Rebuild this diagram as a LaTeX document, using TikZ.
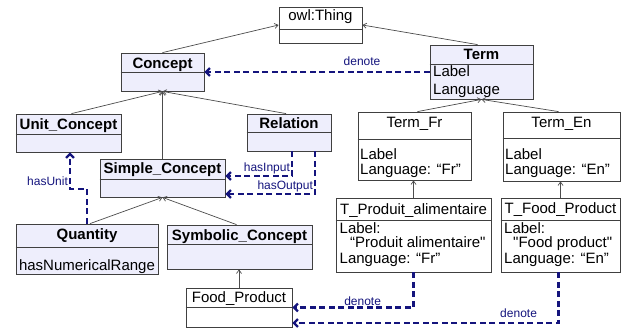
\documentclass[tikz,border=0pt]{standalone}
\usepackage{fontspec}
\setmainfont{Liberation Sans}[Ligatures=TeXOff]
\usetikzlibrary{arrows.meta}

\definecolor{classfill}{RGB}{238,238,252}
\definecolor{assocblue}{RGB}{20,20,125}

\begin{document}
\begin{tikzpicture}[x=1pt, y=-1pt,
    box/.style = {draw=black!75, line width=0.8pt, inner sep=0pt},
    cls/.style = {box, fill=classfill},
    obj/.style = {box, fill=white},
    clsname/.style = {anchor=base, inner sep=0pt, font=\fontsize{15}{18}\selectfont\bfseries},
    plainname/.style = {anchor=base, inner sep=0pt, font=\fontsize{15}{18}\selectfont},
    attr/.style = {anchor=base west, inner sep=0pt, font=\fontsize{15}{18}\selectfont},
    isa/.style = {draw=black!70, line width=0.7pt, -{Straight Barb[length=3.5pt,width=5pt]}},
    rel/.style = {draw=assocblue, line width=2.2pt, dash pattern=on 6pt off 3.5pt,
                  -{Straight Barb[length=4pt,width=8pt]}},
    rlabel/.style = {text=assocblue, font=\fontsize{12}{14}\selectfont, inner sep=1pt}
  ]
  \useasboundingbox (0,0) rectangle (624,334);

  % class boxes
  \node[obj, minimum width=83, minimum height=36] (owl) at (320.5,25) {};
  \node[cls, minimum width=83, minimum height=38] (concept) at (162.5,72) {};
  \node[cls, minimum width=105, minimum height=38] (unit) at (68.5,133) {};
  \node[cls, minimum width=84, minimum height=37] (relation) at (289,132.5) {};
  \node[cls, minimum width=125, minimum height=38] (simple) at (162.5,178) {};
  \node[cls, minimum width=142, minimum height=50] (quantity) at (87,249) {};
  \node[cls, minimum width=145, minimum height=44] (symbolic) at (239.5,247) {};
  \node[obj, minimum width=106, minimum height=39] (food) at (239,307.5) {};
  \node[cls, minimum width=103, minimum height=54] (term) at (481.5,72) {};
  \node[obj, minimum width=113, minimum height=68] (termfr) at (414.5,146) {};
  \node[obj, minimum width=117, minimum height=69] (termen) at (561.5,146.5) {};
  \node[obj, minimum width=155, minimum height=74] (tprod) at (413.5,235) {};
  \node[obj, minimum width=119, minimum height=74] (tfood) at (560.5,235) {};

  % compartment lines
  \draw[box] (owl.west |- 0,29) -- (owl.east |- 0,29);
  \draw[box] (concept.west |- 0,72) -- (concept.east |- 0,72);
  \draw[box] (unit.west |- 0,134) -- (unit.east |- 0,134);
  \draw[box] (relation.west |- 0,132) -- (relation.east |- 0,132);
  \draw[box] (simple.west |- 0,179) -- (simple.east |- 0,179);
  \draw[box] (quantity.west |- 0,247) -- (quantity.east |- 0,247);
  \draw[box] (symbolic.west |- 0,244) -- (symbolic.east |- 0,244);
  \draw[box] (food.west |- 0,307) -- (food.east |- 0,307);
  \draw[box] (term.west |- 0,64) -- (term.east |- 0,64);
  \draw[box] (termfr.west |- 0,139) -- (termfr.east |- 0,139);
  \draw[box] (termen.west |- 0,138) -- (termen.east |- 0,138);
  \draw[box] (tprod.west |- 0,220) -- (tprod.east |- 0,220);
  \draw[box] (tfood.west |- 0,220) -- (tfood.east |- 0,220);

  % names and attributes
  \node[plainname] (owl-n) at (320.5,21) {owl:Thing};
  \node[clsname] (concept-n) at (162.5,68.2) {Concept};
  \node[clsname] (unit-n) at (68.5,129.3) {Unit\_Concept};
  \node[clsname] (relation-n) at (289,128.5) {Relation};
  \node[clsname] (simple-n) at (162.5,173.5) {Simple\_Concept};
  \node[clsname] (quantity-n) at (87,239) {Quantity};
  \node[plainname] (quantity-a1) at (87,270) {hasNumericalRange};
  \node[clsname] (symbolic-n) at (239.5,240) {Symbolic\_Concept};
  \node[plainname] (food-n) at (239,302.5) {Food\_Product};
  \node[clsname] (term-n) at (481.5,60) {Term};
  \node[attr] (term-a1) at (433,76.7) {Label};
  \node[attr] (term-a2) at (433,95) {Language};
  \node[plainname] (termfr-n) at (414.5,127.4) {Term\_Fr};
  \node[attr] (termfr-a1) at (360,160) {Label};
  \node[attr] (termfr-a2) at (360,175) {Language: “Fr”};
  \node[plainname] (termen-n) at (561.5,127.4) {Term\_En};
  \node[attr] (termen-a1) at (505,160) {Label};
  \node[attr] (termen-a2) at (505,175) {Language: “En”};
  \node[plainname] (tprod-n) at (413.5,214.6) {T\_Produit\_alimentaire};
  \node[attr] (tprod-a1) at (339.5,233) {Label:};
  \node[attr] (tprod-a2) at (350,247.8) {“Produit alimentaire"};
  \node[attr] (tprod-a3) at (339.5,263) {Language: “Fr”};
  \node[plainname] (tfood-n) at (560.5,213.7) {T\_Food\_Product};
  \node[attr] (tfood-a1) at (504,233) {Label:};
  \node[attr] (tfood-a2) at (513,247.8) {"Food product"};
  \node[attr] (tfood-a3) at (504,263) {Language: “En”};

  % generalisation
  \draw[isa] (concept.north) -- (owl.west);
  \draw[isa] ([xshift=-4]term.north) -- (owl.east);
  \draw[isa] ([xshift=3]unit.north) -- (concept.south);
  \draw[isa] (simple.north) -- (concept.south);
  \draw[isa] ([xshift=-3]relation.north) -- (concept.south);
  \draw[isa] ([xshift=3]termfr.north) -- (term.south);
  \draw[isa] ([xshift=-3]termen.north) -- (term.south);
  \draw[isa] ([xshift=3]quantity.north) -- (simple.south);
  \draw[isa] ([xshift=-3]symbolic.north) -- (simple.south);
  \draw[isa] (food.north) -- (food.north |- symbolic.south);
  \draw[isa] (tprod.north) -- (tprod.north |- termfr.south);
  \draw[isa] (tfood.north) -- (tfood.north |- termen.south);

  % associations
  \draw[rel] (term.west) -- node[rlabel, above=4pt, pos=0.3] {denote} (concept.east);
  \draw[rel] (quantity.north) |- ([xshift=1.5]unit.south |- 0,189)
    -- node[rlabel, left, pos=0.2] {hasUnit} ([xshift=1.5]unit.south);
  \draw[rel] ([xshift=3]relation.south) |- (simple.east |- 0,176)
    node[rlabel, pos=0.5, anchor=south east] {hasInput};
  \draw[rel] ([xshift=26]relation.south) |- (simple.east |- 0,194)
    node[rlabel, pos=0.5, anchor=south east] {hasOutput};
  \draw[rel] (tprod.south) |- (food.east)
    node[rlabel, above=0pt, pos=0.71] {denote};
  \draw[rel] ([xshift=-2]tfood.south) |- (food.east |- 0,323)
    node[rlabel, above=3pt, pos=0.575] {denote};
\end{tikzpicture}
\end{document}
